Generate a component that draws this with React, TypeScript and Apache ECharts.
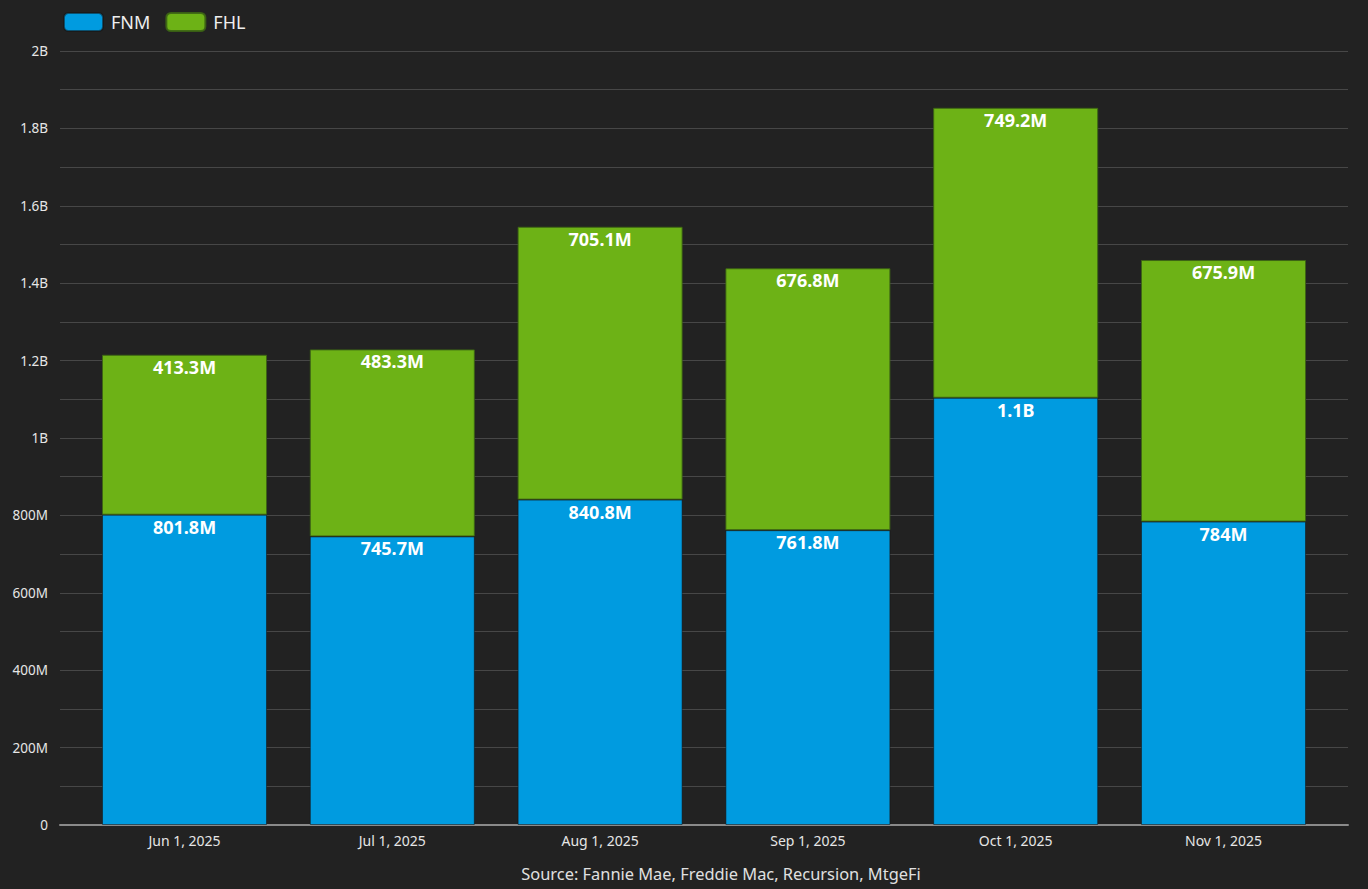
import React, { useEffect, useRef } from "react";
import * as echarts from "echarts";

const categories = ["Jun 1, 2025", "Jul 1, 2025", "Aug 1, 2025", "Sep 1, 2025", "Oct 1, 2025", "Nov 1, 2025"];
const fnmValues = [801.8e6, 745.7e6, 840.8e6, 761.8e6, 1104e6, 784e6];
const fhlValues = [413.3e6, 483.3e6, 705.1e6, 676.8e6, 749.2e6, 675.9e6];
const sourceText = "Source: Fannie Mae, Freddie Mac, Recursion, MtgeFi";

const FONT = "Noto Sans";

function fmt(v: number): string {
  if (v === 0) return "0";
  if (Math.abs(v) >= 1e9) return parseFloat((v / 1e9).toFixed(1)) + "B";
  return parseFloat((v / 1e6).toFixed(1)) + "M";
}

export default function App() {
  const ref = useRef<HTMLDivElement>(null);
  useEffect(() => {
    document.body.style.margin = "0";
    const chart = echarts.init(ref.current!, null, { renderer: "svg" });
    const labelCommon = {
      show: true,
      position: "insideTop" as const,
      distance: 3,
      color: "#ffffff",
      fontFamily: FONT,
      fontWeight: "bold" as const,
      fontSize: 18,
      formatter: (p: any) => fmt(p.value),
    };
    chart.setOption({
      animation: false,
      backgroundColor: "#222222",
      textStyle: { fontFamily: FONT },
      legend: {
        left: 63,
        top: 12,
        padding: 0,
        itemWidth: 39,
        itemHeight: 18,
        itemGap: 15,
        icon: "roundRect",
        textStyle: { color: "#eeeeee", fontSize: 18, fontFamily: FONT, padding: [0, 0, 0, 3] },
        data: ["FNM", "FHL"],
      },
      grid: [
        { left: 60, right: 20, top: 51, bottom: 64 },
        { left: 80.6, right: 40.6, top: 51, bottom: 64 },
      ],
      xAxis: [
        {
          type: "value",
          gridIndex: 0,
          min: 0,
          max: 1,
          axisLine: { show: true, onZero: false, lineStyle: { color: "#8a8a8a", width: 2 } },
          axisTick: { show: false },
          axisLabel: { show: false },
          splitLine: { show: false },
        },
        {
          type: "category",
          gridIndex: 1,
          data: categories,
          axisLine: { show: false },
          axisTick: { show: false },
          axisLabel: { color: "#e6e6e6", fontSize: 14, fontFamily: FONT, margin: 8 },
        },
      ],
      yAxis: [
        {
          type: "value",
          gridIndex: 0,
          min: 0,
          max: 2e9,
          interval: 2e8,
          axisLine: { show: false },
          axisTick: { show: false },
          axisLabel: { color: "#e6e6e6", fontSize: 13.5, fontFamily: FONT, margin: 12, formatter: (v: number) => fmt(v) },
          splitLine: { show: true, lineStyle: { color: "#474747", width: 1 } },
          minorTick: { show: false, splitNumber: 2 },
          minorSplitLine: { show: true, lineStyle: { color: "#474747", width: 1 } },
        },
        {
          type: "value",
          gridIndex: 1,
          min: 0,
          max: 2e9,
          show: false,
          splitLine: { show: false },
        },
      ],
      series: [
        {
          name: "FNM",
          type: "bar",
          stack: "total",
          xAxisIndex: 1,
          yAxisIndex: 1,
          barWidth: 165,
          data: fnmValues,
          itemStyle: { color: "#009be0", borderColor: "rgba(20,20,20,0.55)", borderWidth: 1 },
          label: labelCommon,
        },
        {
          name: "FHL",
          type: "bar",
          stack: "total",
          xAxisIndex: 1,
          yAxisIndex: 1,
          barWidth: 165,
          data: fhlValues,
          itemStyle: { color: "#6db216", borderColor: "rgba(60,100,20,0.9)", borderWidth: 1 },
          label: labelCommon,
        },
      ],
      graphic: [
        {
          type: "text",
          x: 721,
          y: 873,
          style: {
            text: sourceText,
            fill: "#e0e0e0",
            fontSize: 16.4,
            fontFamily: FONT,
            align: "center",
            verticalAlign: "middle",
          },
        },
      ],
    });
    return () => chart.dispose();
  }, []);
  return <div ref={ref} style={{ position: "fixed", left: 0, top: 0, width: 1368, height: 889 }} />;
}
